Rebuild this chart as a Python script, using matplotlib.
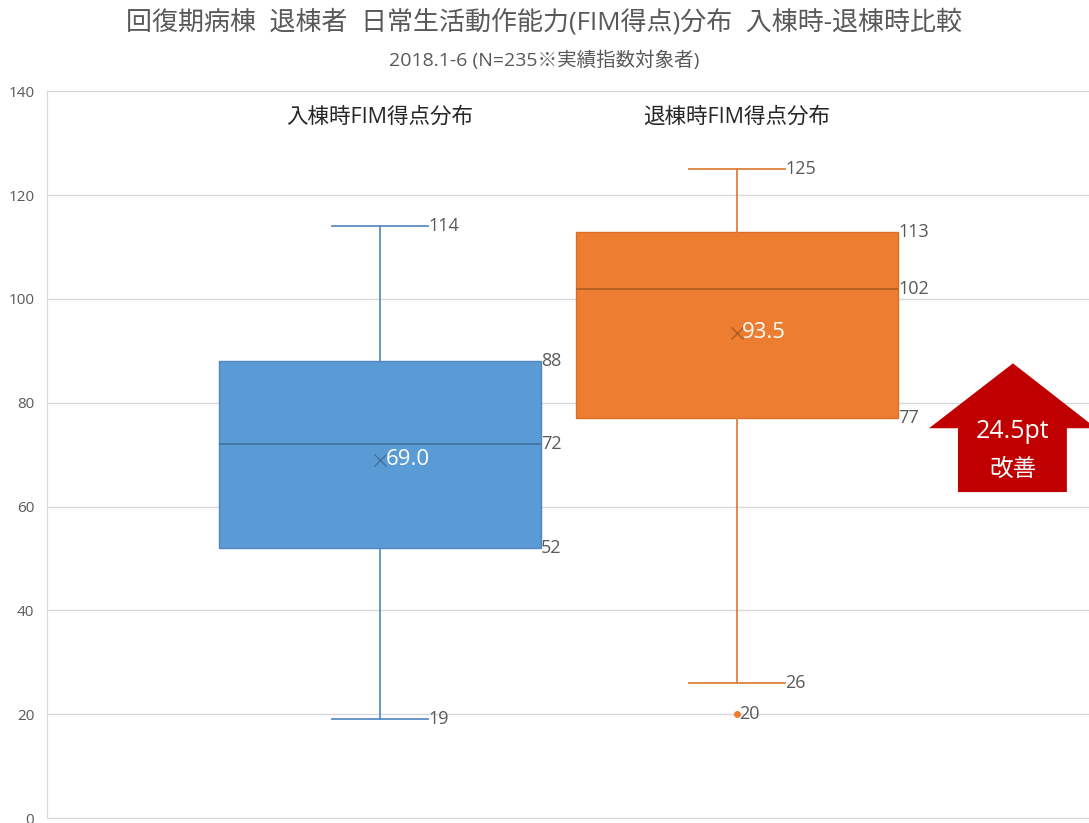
import matplotlib
matplotlib.use("Agg")
import matplotlib.pyplot as plt
from matplotlib.patches import Polygon

plt.rcParams['font.family'] = ['Open Sans', 'Noto Sans CJK JP', 'DejaVu Sans']

# ---- data ----
groups = ['入棟時FIM得点分布', '退棟時FIM得点分布']
whislo = [19, 26]
q1 = [52, 77]
med = [72, 102]
q3 = [88, 113]
whishi = [114, 125]
means = [69.0, 93.5]
fliers = [[], [20]]
improvement_label = '24.5pt'
improvement_text = '改善'
yticks = [0, 20, 40, 60, 80, 100, 120, 140]

title = '回復期病棟  退棟者  日常生活動作能力(FIM得点)分布  入棟時-退棟時比較'
subtitle = '2018.1-6 (N=235※実績指数対象者)'

face_colors = ['#5B9BD5', '#ED7D31']
edge_colors = ['#4F86C0', '#D86E28']
median_colors = ['#41719C', '#AE5A21']
whisk_colors = ['#5D8CC4', '#E08040']
text_gray = '#595959'

fig = plt.figure(figsize=(10.89, 8.23), dpi=100)
ax = fig.add_axes([0.043, 0.006, 0.957, 0.883])

positions = [1, 2]
for i in range(2):
    stats = [dict(med=med[i], q1=q1[i], q3=q3[i], whislo=whislo[i],
                  whishi=whishi[i], mean=means[i], fliers=fliers[i])]
    ax.bxp(stats, positions=[positions[i]], widths=0.902, patch_artist=True,
           showmeans=True, meanline=False, showfliers=True,
           boxprops=dict(facecolor=face_colors[i], edgecolor=edge_colors[i], linewidth=1.0),
           medianprops=dict(color=median_colors[i], linewidth=1.2),
           whiskerprops=dict(color=whisk_colors[i], linewidth=1.3),
           capprops=dict(color=whisk_colors[i], linewidth=1.3),
           capwidths=0.27,
           meanprops=dict(marker='x', markeredgecolor=median_colors[i], markersize=8,
                          markeredgewidth=1.0),
           flierprops=dict(marker='o', markerfacecolor=face_colors[i],
                           markeredgecolor=face_colors[i], markersize=4),
           zorder=3)

ax.set_xlim(0.067, 2.986)
ax.set_ylim(0, 140)
ax.set_yticks(yticks)
ax.set_xticks([])
ax.tick_params(axis='y', length=0, labelsize=11, labelcolor=text_gray, pad=9)
ax.grid(axis='y', color='#D9D9D9', linewidth=1.0, zorder=0)
ax.set_axisbelow(True)
for s in ax.spines.values():
    s.set_color('#D9D9D9')
ax.spines['right'].set_visible(False)

lbl_kw = dict(fontsize=13, color=text_gray, va='center', ha='left')
for i, p in enumerate(positions):
    half_box = 0.902 / 2
    half_cap = 0.27 / 2
    ax.text(p + half_cap, whishi[i], str(whishi[i]), **lbl_kw)
    ax.text(p + half_cap, whislo[i], str(whislo[i]), **lbl_kw)
    ax.text(p + half_box, q3[i], str(q3[i]), **lbl_kw)
    ax.text(p + half_box, med[i], str(med[i]), **lbl_kw)
    ax.text(p + half_box, q1[i], str(q1[i]), **lbl_kw)
    ax.text(p + 0.015, means[i], f'{means[i]:.1f}', fontsize=16, color='white',
            va='center', ha='left', zorder=5)
    for f in fliers[i]:
        ax.text(p + 0.005, f, str(f), **lbl_kw)
    ax.text(p, 135, groups[i], fontsize=15.5, color='#262626', ha='center', va='center')

# improvement arrow
arrow = Polygon([(2.773, 87.6), (2.986 + 0.02, 75.1), (2.924, 75.1), (2.924, 62.8),
                 (2.619, 62.8), (2.619, 75.1), (2.538, 75.1)],
                closed=True, facecolor='#C00000', edgecolor='none', zorder=6, clip_on=False)
ax.add_patch(arrow)
ax.text(2.773, 74.5, improvement_label, fontsize=18, color='white', ha='center',
        va='center', zorder=7)
ax.text(2.773, 67.0, improvement_text, fontsize=17, color='white', ha='center',
        va='center', zorder=7)

fig.text(0.5, 0.973, title, fontsize=18.7, color=text_gray, ha='center', va='center')
fig.text(0.5, 0.927, subtitle, fontsize=14, color=text_gray, ha='center', va='center')

fig.savefig('out.png', dpi=100)
